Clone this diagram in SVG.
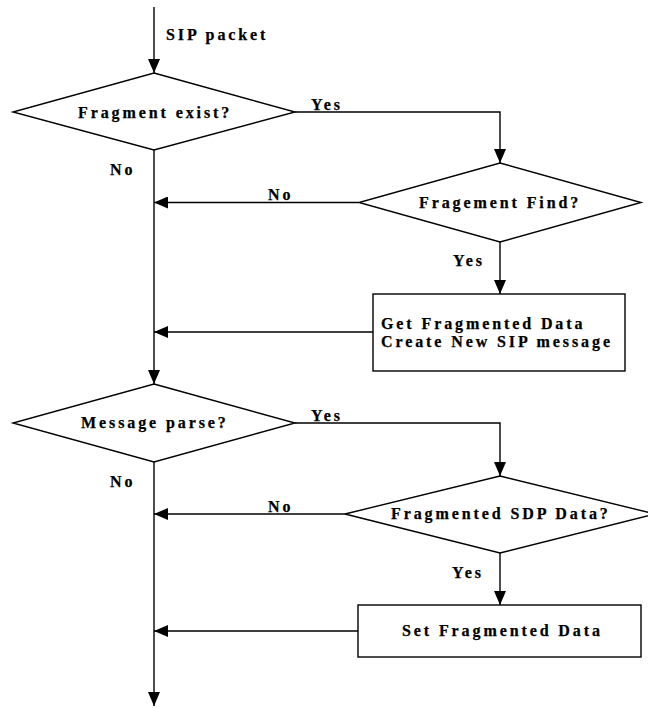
<svg xmlns="http://www.w3.org/2000/svg" width="648" height="709" viewBox="0 0 648 709">
<style>
.s{fill:#fff;stroke:#000;stroke-width:1.4}
.c{fill:none;stroke:#000;stroke-width:1.4}
text{font-family:"Liberation Serif","Times New Roman",serif;font-weight:bold;font-size:16px;letter-spacing:2.9px;fill:#000;stroke:#000;stroke-width:0.25}
</style>
<defs>
<marker id="ah" markerUnits="userSpaceOnUse" markerWidth="14" markerHeight="12" refX="14" refY="6" orient="auto">
<path d="M0,0 L14,6 L0,12 z" fill="#000"/>
</marker>
</defs>
<g id="connectors">
<path class="c" d="M154,7 V73" marker-end="url(#ah)"/>
<path class="c" d="M295,112 H500 V163" marker-end="url(#ah)"/>
<path class="c" d="M154,150 V384" marker-end="url(#ah)"/>
<path class="c" d="M359,202.5 H154" marker-end="url(#ah)"/>
<path class="c" d="M500,242 V294" marker-end="url(#ah)"/>
<path class="c" d="M373,332 H154" marker-end="url(#ah)"/>
<path class="c" d="M295,423 H500 V476" marker-end="url(#ah)"/>
<path class="c" d="M154,462 V706" marker-end="url(#ah)"/>
<path class="c" d="M345,514 H154" marker-end="url(#ah)"/>
<path class="c" d="M500,553 V605" marker-end="url(#ah)"/>
<path class="c" d="M358,631 H154" marker-end="url(#ah)"/>
<text x="166" y="40">SIP packet</text>
<text x="311" y="110">Yes</text>
<text x="110" y="175">No</text>
<text x="268" y="200">No</text>
<text x="453" y="266">Yes</text>
<text x="311" y="421">Yes</text>
<text x="110" y="487">No</text>
<text x="268" y="512">No</text>
<text x="452" y="578">Yes</text>
</g>
<g id="d1">
<polygon class="s" points="154,73 295,112 154,150 13,112"/>
<text x="78" y="118">Fragment exist?</text>
</g>
<g id="d2">
<polygon class="s" points="500,163 641,202.5 500,242 359,202.5"/>
<text x="419" y="208">Fragement Find?</text>
</g>
<g id="b1">
<rect class="s" x="373" y="294" width="252" height="77"/>
<text x="381" y="329">Get Fragmented Data</text>
<text x="381" y="347">Create New SIP message</text>
</g>
<g id="d3">
<polygon class="s" points="154,384 295,423 154,462 13,423"/>
<text x="81" y="428">Message parse?</text>
</g>
<g id="d4">
<polygon class="s" points="500,476 655,514 500,553 345,514"/>
<text x="391" y="519">Fragmented SDP Data?</text>
</g>
<g id="b2">
<rect class="s" x="358" y="605" width="283" height="52"/>
<text x="402" y="636">Set Fragmented Data</text>
</g>
</svg>
